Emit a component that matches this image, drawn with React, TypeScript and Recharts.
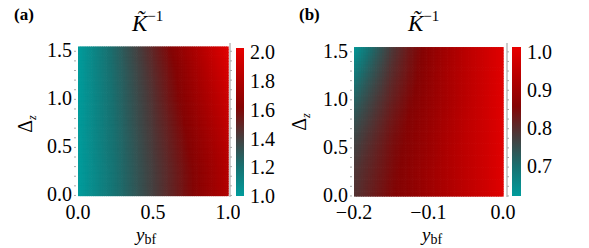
import React from 'react';
import { ComposedChart, XAxis, YAxis, ReferenceArea, Scatter } from 'recharts';

const SERIF = '"Liberation Serif", "Times New Roman", serif';

// panel (a): K^-1 over y_bf in [0, 1] and Delta_z
const aYbf = [0, 0.1, 0.2, 0.3, 0.4, 0.5, 0.6, 0.7, 0.8, 0.9, 1.0];
const aDelta = [0, 0.25, 0.5, 0.75, 1.0, 1.25, 1.55];
const aKinv = [
  [1.0, 1.08, 1.16, 1.24, 1.32, 1.4, 1.48, 1.56, 1.64, 1.72, 1.8],
  [1.0, 1.08, 1.16, 1.245, 1.325, 1.405, 1.485, 1.565, 1.645, 1.725, 1.81],
  [1.0, 1.085, 1.17, 1.25, 1.335, 1.42, 1.5, 1.585, 1.67, 1.75, 1.835],
  [1.0, 1.09, 1.175, 1.26, 1.35, 1.435, 1.52, 1.61, 1.695, 1.78, 1.87],
  [1.0, 1.09, 1.18, 1.27, 1.36, 1.45, 1.545, 1.635, 1.725, 1.815, 1.905],
  [1.0, 1.095, 1.19, 1.28, 1.375, 1.47, 1.565, 1.66, 1.755, 1.85, 1.945],
  [1.0, 1.1, 1.2, 1.3, 1.4, 1.5, 1.6, 1.7, 1.8, 1.9, 2.0],
];
const aXTicks = [0, 0.5, 1];
const aCbTicks = [1.0, 1.2, 1.4, 1.6, 1.8, 2.0];

// panel (b): y_bf in [-0.2, 0]
const bYbf = [-0.2, -0.175, -0.15, -0.125, -0.1, -0.075, -0.05, -0.025, 0];
const bDelta = [0, 0.25, 0.5, 0.75, 1.0, 1.25, 1.55];
const bKinv = [
  [0.79, 0.82, 0.85, 0.87, 0.895, 0.92, 0.945, 0.97, 1.0],
  [0.785, 0.815, 0.845, 0.87, 0.895, 0.92, 0.945, 0.97, 1.0],
  [0.77, 0.805, 0.84, 0.865, 0.89, 0.92, 0.945, 0.97, 1.0],
  [0.75, 0.79, 0.83, 0.86, 0.885, 0.915, 0.945, 0.97, 1.0],
  [0.72, 0.77, 0.815, 0.85, 0.88, 0.91, 0.94, 0.97, 1.0],
  [0.685, 0.745, 0.8, 0.84, 0.875, 0.91, 0.94, 0.97, 1.0],
  [0.63, 0.71, 0.78, 0.83, 0.87, 0.905, 0.94, 0.97, 1.0],
];
const bXTicks = [-0.2, -0.1, 0];
const bCbTicks = [0.7, 0.8, 0.9, 1.0];

const deltaTicks = [0, 0.5, 1, 1.5];
const deltaMinor = [0, 0.1, 0.2, 0.3, 0.4, 0.5, 0.6, 0.7, 0.8, 0.9, 1.0, 1.1, 1.2, 1.3, 1.4, 1.5];

const colorStops: [number, number[]][] = [
  [0, [0, 156, 156]],
  [0.2, [24, 112, 112]],
  [0.4, [72, 60, 60]],
  [0.6, [132, 4, 4]],
  [0.8, [182, 0, 0]],
  [1, [232, 0, 0]],
];

function colorAt(t: number) {
  const c = Math.max(0, Math.min(1, t));
  for (let i = 1; i < colorStops.length; i++) {
    const [t1, c1] = colorStops[i];
    const [t0, c0] = colorStops[i - 1];
    if (c <= t1) {
      const f = (c - t0) / (t1 - t0);
      const rgb = c0.map((v, k) => Math.round(v + (c1[k] - v) * f));
      return `rgb(${rgb.join(',')})`;
    }
  }
  return 'rgb(232,0,0)';
}

const fmt = (v: number) => (v < -1e-9 ? '\u2212' : '') + Math.abs(v).toFixed(1);

function HeatCell(props: any) {
  const { x, y, width, height, corners, dom } = props;
  const [v00, v10, v01, v11] = corners;
  const nx = 8;
  const ny = 10;
  const rects = [];
  for (let k = 0; k < ny; k++) {
    const fy = 1 - (k + 0.5) / ny;
    for (let m = 0; m < nx; m++) {
      const fx = (m + 0.5) / nx;
      const v =
        v00 * (1 - fx) * (1 - fy) + v10 * fx * (1 - fy) + v01 * (1 - fx) * fy + v11 * fx * fy;
      rects.push(
        <rect
          key={k * nx + m}
          x={x + (m * width) / nx}
          y={y + (k * height) / ny}
          width={width / nx + 0.7}
          height={height / ny + 0.7}
          fill={colorAt((v - dom[0]) / (dom[1] - dom[0]))}
        />,
      );
    }
  }
  return <g>{rects}</g>;
}

// serif tick labels, drawn by hand so the font sticks
const XTick = ({ x, y, payload }: any) => (
  <text x={x} y={y} dy={14} textAnchor="middle" fontFamily={SERIF} fontSize={20} fill="#000">
    {fmt(payload.value)}
  </text>
);
const YTick = ({ x, y, payload }: any) =>
  deltaTicks.some((t) => Math.abs(t - payload.value) < 1e-6) ? (
    <text x={x} y={y} dy={6} textAnchor="end" fontFamily={SERIF} fontSize={20} fill="#000">
      {payload.value.toFixed(1)}
    </text>
  ) : (
    <g />
  );
const CbTick = ({ x, y, payload }: any) => (
  <text x={x} y={y} dy={7} textAnchor="start" fontFamily={SERIF} fontSize={20} fill="#000">
    {payload.value.toFixed(1)}
  </text>
);

function HeatPanel({ left, width, xs, ys, grid, xDomain, yDomain, xTicks, cbDomain }: any) {
  const cells = [];
  for (let j = 0; j < ys.length - 1; j++) {
    for (let i = 0; i < xs.length - 1; i++) {
      const corners = [grid[j][i], grid[j][i + 1], grid[j + 1][i], grid[j + 1][i + 1]];
      cells.push(
        <ReferenceArea
          key={`${i}-${j}`}
          xAxisId="main"
          yAxisId="main"
          x1={xs[i]}
          x2={xs[i + 1]}
          y1={ys[j]}
          y2={ys[j + 1]}
          ifOverflow="visible"
          shape={(p: any) => <HeatCell {...p} corners={corners} dom={cbDomain} />}
        />,
      );
    }
  }
  const pts = xs.map((x: number) => ({ x, y: ys[0] }));
  return (
    <div style={{ position: 'absolute', left, top: 0 }}>
      <ComposedChart width={width} height={248} margin={{ top: 43, right: 0, bottom: 21, left: 0 }}>
        <XAxis
          xAxisId="main"
          type="number"
          dataKey="x"
          domain={xDomain}
          allowDataOverflow
          ticks={xTicks}
          interval={0}
          height={30}
          axisLine={false}
          tickLine={false}
          tickSize={4}
          tickMargin={4}
          tick={<XTick />}
        />
        <XAxis
          xAxisId="top"
          orientation="top"
          type="number"
          domain={xDomain}
          allowDataOverflow
          ticks={[]}
          height={0}
          axisLine={{ stroke: '#999' }}
          tickLine={false}
        />
        <YAxis
          yAxisId="main"
          type="number"
          dataKey="y"
          domain={yDomain}
          allowDataOverflow
          ticks={deltaMinor}
          interval={0}
          width={76}
          axisLine={false}
          tickLine={{ stroke: '#aaa' }}
          tickSize={2}
          tickMargin={2}
          tick={<YTick />}
        />
        <YAxis
          yAxisId="right"
          orientation="right"
          type="number"
          domain={yDomain}
          allowDataOverflow
          ticks={deltaMinor}
          interval={0}
          tick={() => <g />}
          width={10}
          axisLine={{ stroke: '#999' }}
          tickLine={{ stroke: '#aaa' }}
          tickSize={2}
        />
        {cells}
        <Scatter
          xAxisId="main"
          yAxisId="main"
          data={pts}
          isAnimationActive={false}
          shape={() => <g />}
        />
      </ComposedChart>
    </div>
  );
}

function ColorBar({ left, width, top, bottom, cbDomain, ticks, id }: any) {
  const stops = [...colorStops].reverse().map(([t, c]) => (
    <stop key={t} offset={`${(1 - t) * 100}%`} stopColor={`rgb(${c.join(',')})`} />
  ));
  return (
    <div style={{ position: 'absolute', left, top: 0 }}>
      <ComposedChart width={width} height={248} margin={{ top, right: 0, bottom, left: 0 }}>
        <XAxis type="number" dataKey="x" domain={[0, 1]} hide />
        <YAxis
          orientation="right"
          type="number"
          dataKey="y"
          domain={cbDomain}
          allowDataOverflow
          ticks={ticks}
          interval={0}
          width={52}
          axisLine={false}
          tickLine={false}
          tickSize={0}
          tickMargin={6}
          tick={<CbTick />}
        />
        <ReferenceArea
          x1={0}
          x2={1}
          y1={cbDomain[0]}
          y2={cbDomain[1]}
          ifOverflow="visible"
          shape={(p: any) => (
            <g>
              <defs>
                <linearGradient id={id} x1="0" y1="0" x2="0" y2="1">
                  {stops}
                </linearGradient>
              </defs>
              <rect x={p.x} y={p.y} width={p.width} height={p.height} fill={`url(#${id})`} />
            </g>
          )}
        />
        <Scatter data={[{ x: 0, y: cbDomain[0] }]} isAnimationActive={false} shape={() => <g />} />
      </ComposedChart>
    </div>
  );
}

function Title({ x }: { x: number }) {
  return (
    <text x={x} y={31} fontFamily={SERIF} fontSize={23}>
      <tspan fontStyle="italic">K&#771;</tspan>
      <tspan dy={-10} fontSize={15}>
        {'\u2212'}1
      </tspan>
    </text>
  );
}

function DeltaLabel({ x, y }: { x: number; y: number }) {
  return (
    <text transform={`translate(${x},${y}) rotate(-90)`} textAnchor="middle" fontFamily={SERIF} fontSize={20}>
      {'\u0394'}
      <tspan fontStyle="italic" fontSize={12} dy={4}>
        z
      </tspan>
    </text>
  );
}

function YbfLabel({ x }: { x: number }) {
  return (
    <text x={x} y={241} textAnchor="middle" fontFamily={SERIF} fontSize={19}>
      <tspan fontStyle="italic">y</tspan>
      <tspan fontSize={14} dy={3}>
        bf
      </tspan>
    </text>
  );
}

export default function App() {
  return (
    <div
      style={{
        position: 'absolute',
        left: 0,
        top: 0,
        width: 589,
        height: 248,
        background: '#fff',
        fontFamily: SERIF,
      }}
    >
      <HeatPanel
        left={0}
        width={240}
        xs={aYbf}
        ys={aDelta}
        grid={aKinv}
        xDomain={[-0.0133, 1.0133]}
        yDomain={[-0.016, 1.586]}
        xTicks={aXTicks}
        cbDomain={[1.0, 2.03]}
      />
      <ColorBar left={236} width={60} top={48} bottom={52} cbDomain={[1.0, 2.03]} ticks={aCbTicks} id="cbA" />
      <HeatPanel
        left={276}
        width={241}
        xs={bYbf}
        ys={bDelta}
        grid={bKinv}
        xDomain={[-0.2027, 0.0054]}
        yDomain={[-0.011, 1.592]}
        xTicks={bXTicks}
        cbDomain={[0.62, 1.013]}
      />
      <ColorBar left={512} width={61} top={47} bottom={52} cbDomain={[0.62, 1.013]} ticks={bCbTicks} id="cbB" />
      <svg width={589} height={248} style={{ position: 'absolute', left: 0, top: 0, pointerEvents: 'none' }}>
        <text x={14} y={20} fontFamily={SERIF} fontSize={17} fontWeight="bold">
          (a)
        </text>
        <text x={299} y={20} fontFamily={SERIF} fontSize={17} fontWeight="bold">
          (b)
        </text>
        <Title x={132} />
        <Title x={408} />
        <DeltaLabel x={32} y={124} />
        <DeltaLabel x={306} y={122} />
        <YbfLabel x={146} />
        <YbfLabel x={432} />
      </svg>
    </div>
  );
}
